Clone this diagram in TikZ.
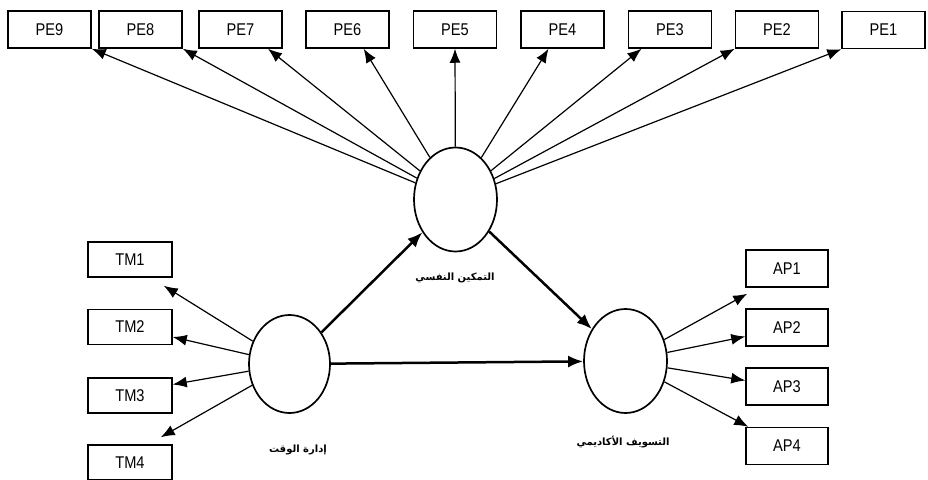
\documentclass[tikz,border=0pt]{standalone}
\usepackage{fontspec}
\usetikzlibrary{shapes.geometric,arrows.meta}
\newfontfamily\boxfont[FakeStretch=0.86]{Liberation Sans}
\newfontfamily\arabicfont[Script=Arabic]{DejaVu Sans}
\TeXXeTstate=1
\begin{document}
\begin{tikzpicture}[x=1pt,y=-1pt,
  ind/.style={draw,line width=1.5pt,minimum width=83pt,minimum height=37pt,inner sep=0pt,
    font=\boxfont\fontsize{17}{19}\selectfont},
  lat/.style={draw,ellipse,line width=1.7pt,minimum width=83pt,minimum height=104pt,inner sep=0pt},
  load/.style={-{Latex[length=14pt,width=11pt]},line width=1.2pt},
  effect/.style={-{Latex[length=15pt,width=12pt]},line width=2.5pt},
  latlabel/.style={font=\arabicfont\bfseries\fontsize{10}{12}\selectfont}]
\useasboundingbox (0,0) rectangle (928,479);
\foreach \i/\x in {9/49.5,8/140.5,7/240.5,6/347.5,5/455,4/562.5,3/670,2/777}
  \node[ind] (PE\i) at (\x,29.5) {PE\i};
\node[ind] (PE1) at (883.5,30) {PE1};
\foreach \i/\y in {1/259.5,2/327,3/395.5,4/462.5}
  \node[ind,minimum width=84pt,minimum height=35pt] (TM\i) at (130,\y) {TM\i};
\foreach \i/\y in {1/268.5,2/327.5,3/386.5,4/446}
  \node[ind,minimum width=82pt] (AP\i) at (787,\y) {AP\i};
\node[lat] (emp) at (455.5,199.5) {};
\node[lat,minimum width=81pt,minimum height=98pt] (tim) at (289.5,364) {};
\node[lat] (pro) at (625.5,361) {};
\node[latlabel] (empname) at (455,278) {\beginR التمكين النفسي\endR};
\node[latlabel] (timname) at (298,450) {\beginR إدارة الوقت\endR};
\node[latlabel] (proname) at (623,442) {\beginR التسويف الأكاديمي\endR};
\foreach \i/\a in {9/south east,8/south east,7/-35,6/-50,5/south,4/-126,3/-146,2/south west,1/south west}
  \draw[load] (emp) -- (PE\i.\a);
\draw[load] (tim) -- ([shift={(-9pt,-8pt)}]TM1.south east);
\draw[load] (tim) -- ([yshift=-10pt]TM2.east);
\draw[load] (tim) -- ([yshift=11pt]TM3.east);
\draw[load] (tim) -- ([shift={(-12pt,7pt)}]TM4.north east);
\draw[load] (pro) -- ([shift={(2pt,-6pt)}]AP1.south west);
\draw[load] (pro) -- ([yshift=-9pt]AP2.west);
\draw[load] (pro) -- ([yshift=6pt]AP3.west);
\draw[load] (pro) -- ([xshift=3pt]AP4.north west);
\draw[effect] (tim) -- (emp);
\draw[effect] (emp) -- (pro);
\draw[effect] (tim) -- (pro);
\end{tikzpicture}
\end{document}
